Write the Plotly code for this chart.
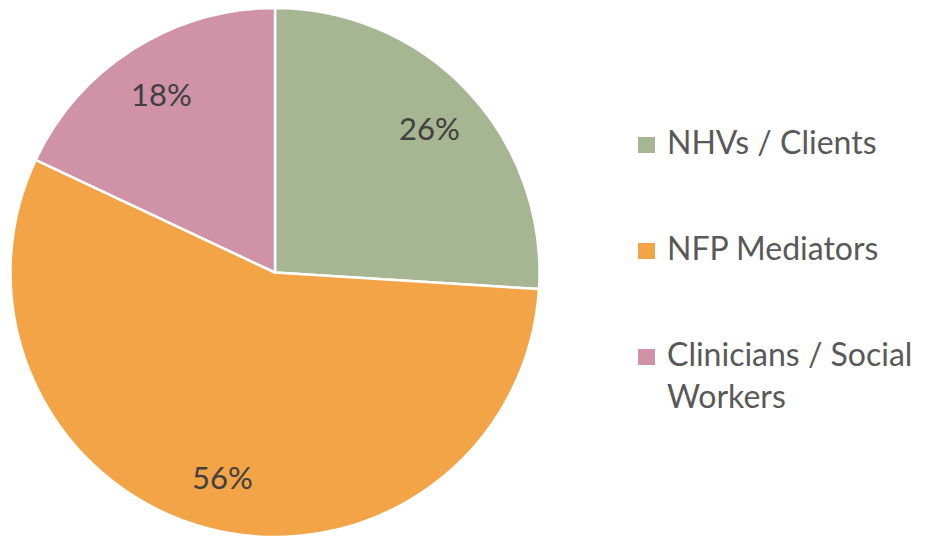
import math
import plotly.graph_objects as go

labels = ["NHVs / Clients", "NFP Mediators", "Clinicians / Social Workers"]
legend_text = ["NHVs / Clients", "NFP Mediators", "Clinicians / Social<br>Workers"]
values = [26, 56, 18]
colors = ["#A6B592", "#F3A446", "#D092A7"]

W, H = 933, 537
cx, cy, R = 275, 272.5, 264.5  # pie centre / radius in pixels

fig = go.Figure(go.Pie(
    labels=labels,
    values=values,
    sort=False,
    direction="clockwise",
    rotation=0,
    marker=dict(colors=colors, line=dict(color="white", width=2.5)),
    textinfo="none",
    domain=dict(x=[(cx - R) / W, (cx + R) / W], y=[1 - (cy + R) / H, 1 - (cy - R) / H]),
    showlegend=False,
    hoverinfo="label+percent",
))

# percent labels placed at 0.8 radius along each slice's mid-angle
total = sum(values)
cum = 0
for v in values:
    mid = (cum + v / 2) / total * 2 * math.pi
    cum += v
    px = cx + 0.8 * R * math.sin(mid)
    py = cy - 0.8 * R * math.cos(mid)
    fig.add_annotation(xref="paper", yref="paper", x=px / W, y=1 - py / H,
                       xanchor="center", yanchor="middle", showarrow=False,
                       text=f"{round(v / total * 100)}%",
                       font=dict(family="Lato, sans-serif", size=31, color="#404040"))

# legend drawn as annotations + squares
leg_y = [145, 251, 357]
for txt, col, yy in zip(legend_text, colors, leg_y):
    fig.add_shape(type="rect", xref="paper", yref="paper",
                  x0=638 / W, x1=655 / W, y0=1 - (yy + 8) / H, y1=1 - (yy - 8) / H,
                  fillcolor=col, line=dict(width=0))
    fig.add_annotation(xref="paper", yref="paper", x=665 / W, y=1 - (yy - 25) / H,
                       xanchor="left", yanchor="top", align="left", showarrow=False,
                       text=txt, font=dict(family="Lato, sans-serif", size=32, color="#595959"))

fig.update_layout(
    width=W, height=H,
    margin=dict(l=0, r=0, t=0, b=0),
    paper_bgcolor="white",
    plot_bgcolor="white",
)

fig.write_html("out.html", config={"displayModeBar": False},
               post_script="document.body.style.margin='0';")
